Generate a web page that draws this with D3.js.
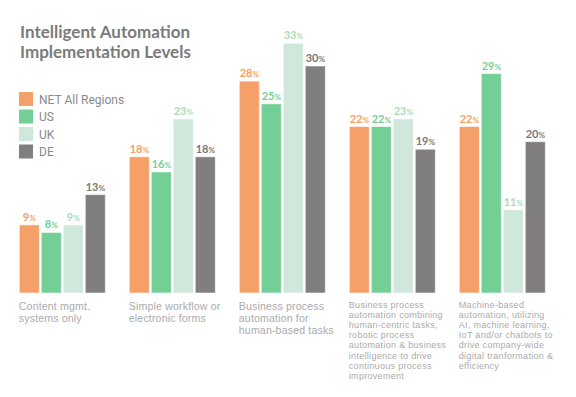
<!DOCTYPE html>
<html>
<head>
<meta charset="utf-8">
<script src="https://cdn.jsdelivr.net/npm/d3@7"></script>
<style>
  body { margin: 0; background: #fff; }
  svg { display: block; }
</style>
</head>
<body>
<div id="chart"></div>
<script>
// data
var categories = ["Content mgmt.", "Simple workflow", "BPA human", "BPA combined", "Machine-based"];
var series = ["NET All Regions", "US", "UK", "DE"];
var netAll = [9, 18, 28, 22, 22];
var us = [8, 16, 25, 22, 29];
var uk = [9, 23, 33, 23, 11];
var de = [13, 18, 30, 19, 20];
var categoryLines = [
  ["Content mgmt.", "systems only"],
  ["Simple workflow or", "electronic forms"],
  ["Business process", "automation for", "human-based tasks"],
  ["Business process", "automation combining", "human-centric tasks,", "robotic process", "automation & business", "intelligence to drive", "continuous process", "improvement"],
  ["Machine-based", "automation, utilizing", "AI, machine learning,", "IoT and/or chatbots to", "drive company-wide", "digital tranformation &", "efficiency"]
];

var colors = ["#f59f69", "#74cf97", "#cfe8db", "#807e7f"];
var labelColors = ["#f59f69", "#74cf97", "#a9dcbc", "#7a7879"];
var values = [netAll, us, uk, de];

var width = 576, height = 397;
var baseY = 293;

var svg = d3.select("#chart")
  .append("svg")
    .attr("width", width)
    .attr("height", height);

// title
svg.append("text")
  .attr("x", 20).attr("y", 38)
  .style("font-family", "Lato").style("font-weight", "bold")
  .style("font-size", "17px").attr("fill", "#7b7b7b")
  .text("Intelligent Automation");
svg.append("text")
  .attr("x", 20).attr("y", 58)
  .style("font-family", "Lato").style("font-weight", "bold")
  .style("font-size", "17px").attr("fill", "#7b7b7b")
  .text("Implementation Levels");

// scales
var x0 = d3.scaleBand()
  .domain(categories)
  .range([19.3, 545.3])
  .paddingInner(24 / 110)
  .paddingOuter(0);

var x1 = d3.scaleBand()
  .domain(series)
  .range([0, x0.bandwidth()])
  .paddingInner(0.09);

var y = d3.scaleLinear()
  .domain([0, 33])
  .range([baseY, 43.3]);

var rows = [];
categories.forEach(function(c, i) {
  series.forEach(function(s, j) {
    rows.push({cat: c, ser: s, si: j, v: values[j][i]});
  });
});

var groups = svg.selectAll(".bar")
  .data(rows)
  .enter()
  .append("g");

groups.append("rect")
  .attr("x", function(d) { return x0(d.cat) + x1(d.ser); })
  .attr("y", function(d) { return y(d.v); })
  .attr("width", x1.bandwidth())
  .attr("height", function(d) { return baseY - y(d.v); })
  .attr("fill", function(d) { return colors[d.si]; })
  .attr("stroke", "rgba(255,255,255,0.55)")
  .attr("stroke-width", 1);

var lbl = groups.append("text")
  .attr("x", function(d) { return x0(d.cat) + x1(d.ser) + x1.bandwidth() / 2; })
  .attr("y", function(d) { return y(d.v) - 4; })
  .attr("text-anchor", "middle")
  .style("font-family", "Lato").style("font-weight", "bold")
  .attr("fill", function(d) { return labelColors[d.si]; });
lbl.append("tspan").style("font-size", "11px").text(function(d) { return d.v; });
lbl.append("tspan").style("font-size", "8px").text("%");

// legend
var legend = svg.selectAll(".legend")
  .data(series)
  .enter()
  .append("g")
  .attr("transform", function(d, i) { return "translate(19," + (92 + i * 17.5) + ")"; });
legend.append("rect")
  .attr("width", 14).attr("height", 14)
  .attr("fill", function(d, i) { return colors[i]; });
legend.append("text")
  .attr("x", 20).attr("y", 11.5)
  .style("font-family", "Roboto").style("font-size", "12px")
  .attr("fill", "#8a8a8a")
  .text(function(d) { return d; });

// category labels
categoryLines.forEach(function(lines, i) {
  var small = lines.length > 3;
  var t = svg.append("text")
    .attr("x", x0(categories[i]) - 0.5)
    .attr("y", small ? 308 : 309.5)
    .style("font-family", "Liberation Sans")
    .style("font-size", small ? "9px" : "10.6px")
    .style("letter-spacing", small ? "0.3px" : "0.15px")
    .attr("fill", "#ababab");
  lines.forEach(function(l, k) {
    t.append("tspan")
      .attr("x", x0(categories[i]) - 0.5)
      .attr("dy", k === 0 ? 0 : (small ? 10.1 : 12))
      .text(l);
  });
});
</script>
</body>
</html>
